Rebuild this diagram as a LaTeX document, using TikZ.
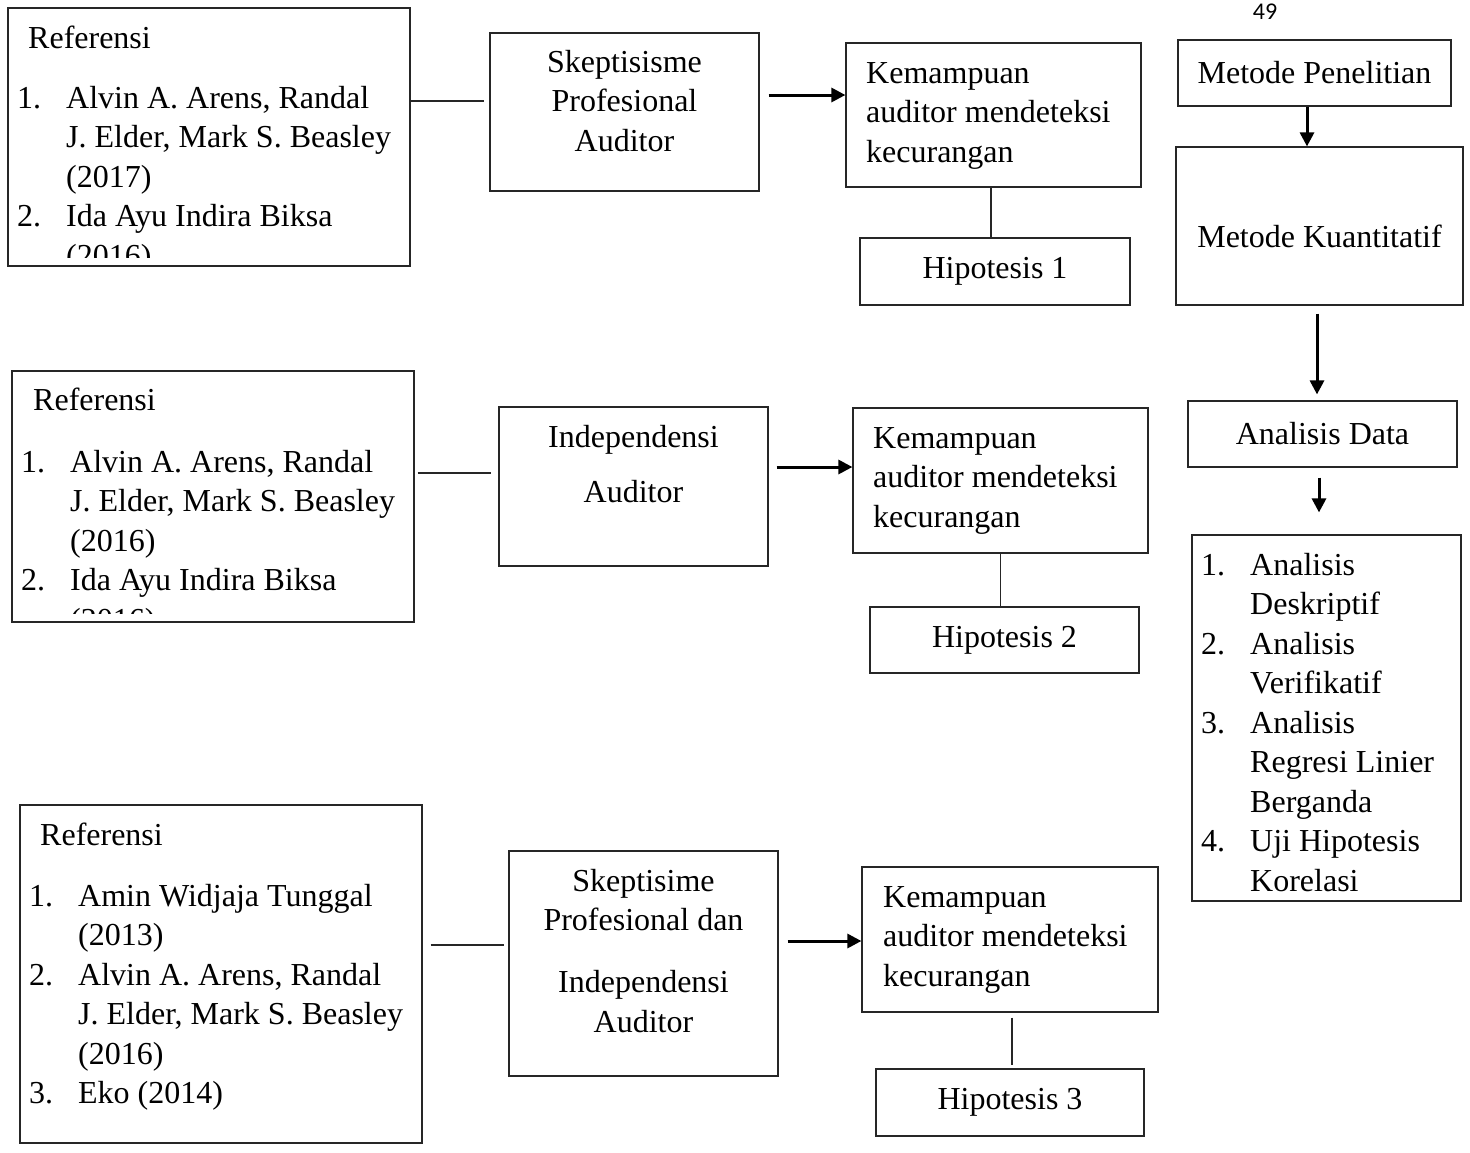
\documentclass[tikz,border=0pt]{standalone}
\usepackage{fontspec}
\setmainfont{Liberation Serif}
\newfontfamily\pagenumfont{Carlito}
\usetikzlibrary{arrows.meta,positioning}

% numbered list lines
\newcommand{\litem}[1]{\makebox[49pt][l]{#1}}
\newcommand{\lcont}{\hspace*{49pt}}

\tikzset{
  box/.style={draw=black!85, line width=1.2pt, inner sep=0pt},
  txt/.style={inner sep=0pt, anchor=base west, align=left, font=\fontsize{32}{39.5}\selectfont},
  ctxt/.style={inner sep=0pt, anchor=base, align=center, font=\fontsize{32}{39.5}\selectfont},
  flow/.style={line width=3pt, -{Triangle[length=14pt,width=14pt]}},
  link/.style={line width=1.2pt, black!85}
}

\begin{document}
\begin{tikzpicture}[x=1pt, y=-1pt]
    \useasboundingbox (0,0) rectangle (1470,1152);

    % page number
    \node[inner sep=0pt, anchor=base, font=\pagenumfont\fontsize{24}{28}\selectfont] (pg) at (1265,19) {49};

    % Row 1 (multi-line texts sit on the baseline of their last line)
    \node[box, minimum width=402pt, minimum height=258pt] (ref1) at (209,137) {};
    \node[txt] (ref1h) at (28,48) {Referensi};
    \begin{scope}
        \clip (ref1.north west) rectangle ([yshift=9pt]ref1.south east);
        \node[txt] (ref1t) at (17,266) {\litem{1.}Alvin A. Arens, Randal\\
            \lcont J. Elder, Mark S. Beasley\\
            \lcont (2017)\\
            \litem{2.}Ida Ayu Indira Biksa\\
            \lcont (2016)};
    \end{scope}
    \node[box, minimum width=269pt, minimum height=158pt] (skep1) at (624.5,112) {};
    \node[ctxt] (skep1t) at (624.5,151) {Skeptisisme\\Profesional\\Auditor};
    \node[box, minimum width=295pt, minimum height=144pt] (kem1) at (993.5,115) {};
    \node[txt] (kem1t) at (866,162) {Kemampuan\\auditor mendeteksi\\kecurangan};
    \node[box, ctxt, anchor=center, minimum width=270pt, minimum height=67pt] (hip1) at (995,271.5) {Hipotesis 1};

    \coordinate (l1) at ([xshift=-5pt,yshift=11pt]skep1.west);
    \draw[link] (ref1.east |- l1) -- (l1);
    \coordinate (a1) at ([xshift=9pt,yshift=17pt]skep1.east);
    \draw[flow] (a1) -- (a1 -| kem1.west);
    \draw[link] ([xshift=-2.5pt]kem1.south) -- ([xshift=-2.5pt]kem1.south |- hip1.north);

    % Row 2
    \node[box, minimum width=402pt, minimum height=251pt] (ref2) at (213,496.5) {};
    \node[txt] (ref2h) at (33,410) {Referensi};
    \begin{scope}
        \clip (ref2.north west) rectangle ([yshift=9pt]ref2.south east);
        \node[txt] (ref2t) at (21,630) {\litem{1.}Alvin A. Arens, Randal\\
            \lcont J. Elder, Mark S. Beasley\\
            \lcont (2016)\\
            \litem{2.}Ida Ayu Indira Biksa\\
            \lcont (2016)};
    \end{scope}
    \node[box, minimum width=269pt, minimum height=159pt] (ind) at (633.5,486.5) {};
    \node[ctxt] (indt) at (633.5,502) {Independensi\\[15.5pt]Auditor};
    \node[box, minimum width=295pt, minimum height=145pt] (kem2) at (1000.5,480.5) {};
    \node[txt] (kem2t) at (873,527) {Kemampuan\\auditor mendeteksi\\kecurangan};
    \node[box, ctxt, anchor=center, minimum width=269pt, minimum height=66pt] (hip2) at (1004.5,640) {Hipotesis 2};

    \coordinate (l2) at ([xshift=-7pt,yshift=13.5pt]ind.west);
    \draw[link] ([xshift=3pt]ref2.east |- l2) -- (l2);
    \coordinate (a2) at ([xshift=8pt,yshift=19.5pt]ind.east);
    \draw[flow] (a2) -- (a2 -| kem2.west);
    \draw[link] (kem2.south) -- (kem2.south |- hip2.north);

    % Row 3
    \node[box, minimum width=402pt, minimum height=338pt] (ref3) at (221,974) {};
    \node[txt] (ref3h) at (40,845) {Referensi};
    \node[txt] (ref3t) at (29,1103.5) {\litem{1.}Amin Widjaja Tunggal\\
        \lcont (2013)\\
        \litem{2.}Alvin A. Arens, Randal\\
        \lcont J. Elder, Mark S. Beasley\\
        \lcont (2016)\\
        \litem{3.}Eko (2014)};
    \node[box, minimum width=269pt, minimum height=225pt] (skep3) at (643.5,963.5) {};
    \node[ctxt] (skep3t) at (643.5,1032) {Skeptisime\\Profesional dan\\[22.5pt]Independensi\\Auditor};
    \node[box, minimum width=296pt, minimum height=145pt] (kem3) at (1010,939.5) {};
    \node[txt] (kem3t) at (883,986) {Kemampuan\\auditor mendeteksi\\kecurangan};
    \node[box, ctxt, anchor=center, minimum width=268pt, minimum height=67pt] (hip3) at (1010,1102.5) {Hipotesis 3};

    \coordinate (l3) at ([xshift=-4pt,yshift=18.5pt]skep3.west);
    \draw[link] ([xshift=8pt]ref3.east |- l3) -- (l3);
    \coordinate (a3) at ([xshift=9pt,yshift=22.5pt]skep3.east);
    \draw[flow] (a3) -- (a3 -| kem3.west);
    \draw[link] ([xshift=2pt,yshift=-5pt]kem3.south) -- ([xshift=2pt,yshift=3pt]kem3.south |- hip3.north);

    % Right column
    \node[box, ctxt, anchor=center, minimum width=273pt, minimum height=66pt] (mp) at (1314.5,73) {Metode Penelitian};
    \node[box, minimum width=287pt, minimum height=158pt] (mk) at (1319.5,226) {};
    \node[ctxt] (mkt) at (1319.5,247) {Metode Kuantitatif};
    \node[box, ctxt, anchor=center, minimum width=269pt, minimum height=66pt] (ad) at (1322.5,434) {Analisis Data};
    \node[box, minimum width=269pt, minimum height=366pt] (al) at (1326.5,718) {};
    \node[txt] (alt) at (1201,891) {\litem{1.}Analisis\\
        \lcont Deskriptif\\
        \litem{2.}Analisis\\
        \lcont Verifikatif\\
        \litem{3.}Analisis\\
        \lcont Regresi Linier\\
        \lcont Berganda\\
        \litem{4.}Uji Hipotesis\\
        \lcont Korelasi};

    \coordinate (a4) at ([xshift=-7.5pt]mp.south);
    \draw[flow] (a4) -- (a4 |- mk.north);
    \coordinate (a5) at ([xshift=-2.5pt,yshift=-8pt]mk.south);
    \coordinate (adtop) at ([yshift=6pt]ad.north);
    \draw[flow] (a5) -- (a5 |- adtop);
    \coordinate (a6) at ([xshift=-3.5pt,yshift=-10pt]ad.south);
    \coordinate (altop) at ([yshift=22pt]al.north);
    \draw[flow] (a6) -- (a6 |- altop);
\end{tikzpicture}
\end{document}
